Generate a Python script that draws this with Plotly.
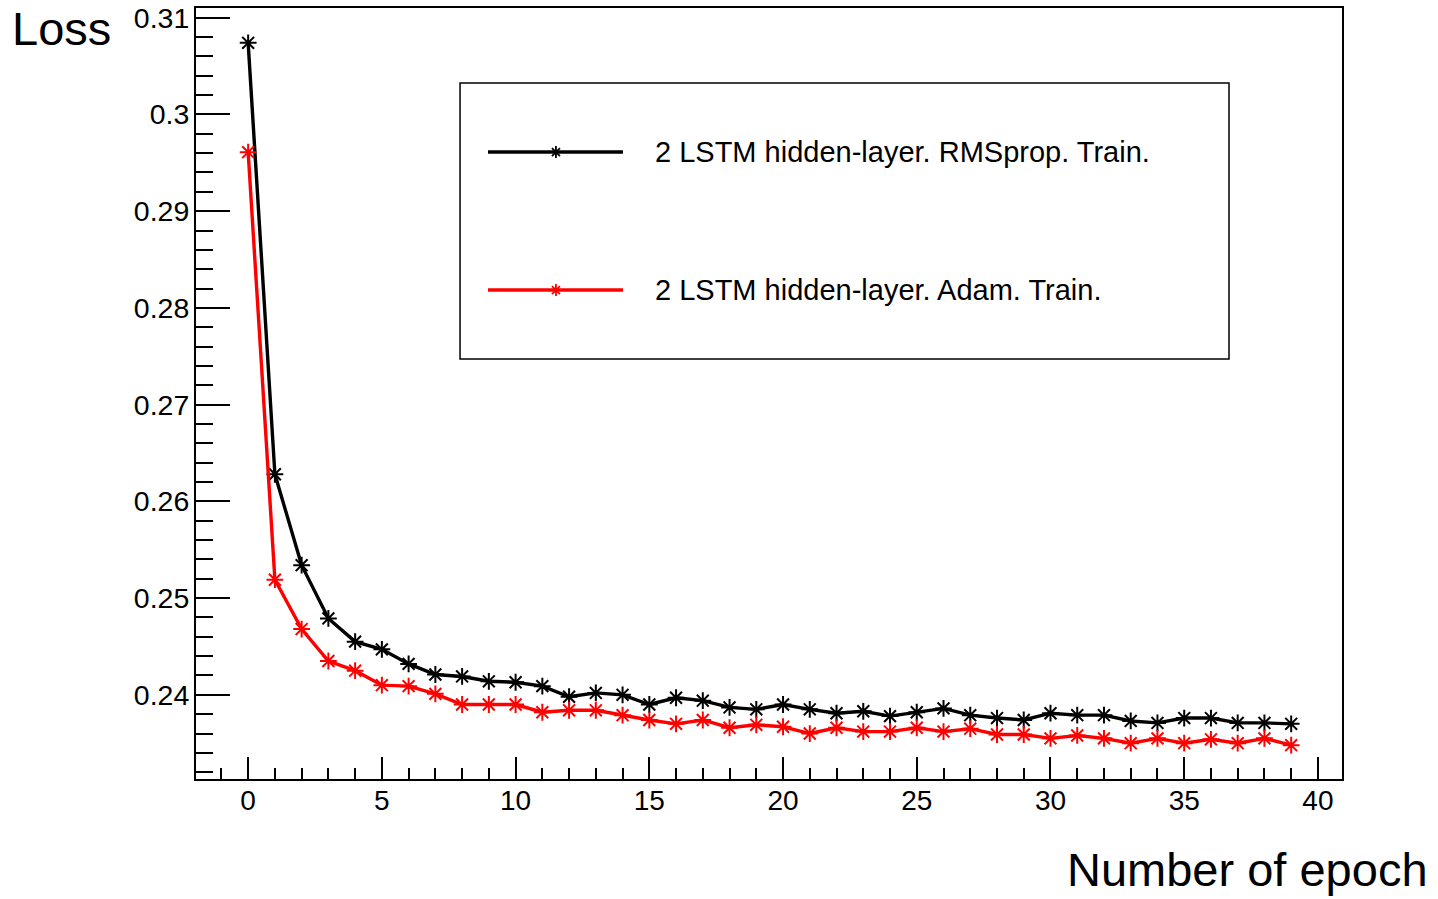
import plotly.graph_objects as go

epochs = list(range(40))
rmsprop_loss = [0.3074, 0.2628, 0.2534, 0.2479, 0.2455, 0.2447, 0.2432, 0.2421, 0.2419, 0.2414,
                0.2413, 0.2409, 0.2398, 0.2402, 0.2400, 0.2390, 0.2397, 0.2394, 0.2387, 0.2385,
                0.2390, 0.2385, 0.2381, 0.2383, 0.2378, 0.2382, 0.2386, 0.2379, 0.2376, 0.2374,
                0.2381, 0.2379, 0.2379, 0.2373, 0.2371, 0.2376, 0.2376, 0.2371, 0.2371, 0.2370]
adam_loss = [0.2961, 0.2519, 0.2468, 0.2435, 0.2425, 0.2410, 0.2409, 0.2401, 0.2390, 0.2390,
             0.2390, 0.2382, 0.2384, 0.2384, 0.2379, 0.2374, 0.2370, 0.2374, 0.2366, 0.2369,
             0.2367, 0.2360, 0.2366, 0.2362, 0.2362, 0.2366, 0.2362, 0.2365, 0.2359, 0.2359,
             0.2355, 0.2358, 0.2355, 0.2350, 0.2355, 0.2350, 0.2354, 0.2350, 0.2355, 0.2348]
series_names = ["2 LSTM hidden-layer. RMSprop. Train.", "2 LSTM hidden-layer. Adam. Train."]
series_colors = ["#000000", "#ff0000"]
x_title = "Number of epoch"
y_title = "Loss"

FONT = "Liberation Sans, Arial, Helvetica, sans-serif"

fig = go.Figure()
for name, ys, col in zip(series_names, [rmsprop_loss, adam_loss], series_colors):
    fig.add_trace(go.Scatter(
        x=epochs, y=ys, name=name, mode="lines+markers",
        line=dict(color=col, width=3.4),
        marker=dict(symbol="asterisk-open", size=14, color=col, line=dict(color=col, width=2)),
        showlegend=False,
    ))

fig.update_layout(
    width=1438, height=899,
    margin=dict(l=196, r=96, t=8, b=120),
    paper_bgcolor="white", plot_bgcolor="white",
    font=dict(family=FONT, color="black", size=28),
    showlegend=False,
)
fig.update_xaxes(
    range=[-1.95, 40.9], dtick=5, tick0=0, automargin=False,
    showgrid=False, zeroline=False,
    showline=True, linecolor="black", linewidth=2, mirror=True,
    ticks="inside", ticklen=22, tickwidth=1.6, tickcolor="black",
    tickfont=dict(size=28, family=FONT), ticklabelstandoff=-5,
    minor=dict(dtick=1, tick0=0, ticks="inside", ticklen=11, tickwidth=1.6, tickcolor="black", showgrid=False),
)
fig.update_yaxes(
    range=[0.2313, 0.3110], dtick=0.01, tick0=0, automargin=False,
    showgrid=False, zeroline=False,
    showline=True, linecolor="black", linewidth=2, mirror=True,
    ticks="inside", ticklen=34, tickwidth=1.6, tickcolor="black",
    tickfont=dict(size=28.5, family=FONT), ticklabelstandoff=-1,
    minor=dict(dtick=0.002, tick0=0, ticks="inside", ticklen=17, tickwidth=1.6, tickcolor="black", showgrid=False),
)

# Axis titles (ROOT style placement)
fig.add_annotation(text=y_title, xref="paper", yref="paper", x=-0.0724, y=0.9734,
                   xanchor="right", yanchor="middle", showarrow=False,
                   font=dict(size=47, family=FONT, color="black"))
fig.add_annotation(text=x_title, xref="paper", yref="paper", x=1.0768, y=-0.117,
                   xanchor="right", yanchor="middle", showarrow=False,
                   font=dict(size=47, family=FONT, color="black"))

# Legend box drawn ROOT-style
fig.add_shape(type="rect", xref="paper", yref="paper", x0=0.2304, x1=0.9014, y0=0.5447, y1=0.9027,
              line=dict(color="black", width=1.5), fillcolor="white", layer="above")
leg_y = [0.8132, 0.6342]
for name, col, yy in zip(series_names, series_colors, leg_y):
    fig.add_shape(type="line", xref="paper", yref="paper", x0=0.2548, x1=0.3726, y0=yy, y1=yy,
                  line=dict(color=col, width=3.4), layer="above")
    fig.add_shape(type="path", xref="paper", yref="paper", xsizemode="pixel", ysizemode="pixel",
                  xanchor=0.3141, yanchor=yy,
                  path="M-5.5,0 L5.5,0 M0,-6 L0,6 M-4,-4 L4,4 M-4,4 L4,-4",
                  line=dict(color=col, width=1.8), layer="above")
    fig.add_annotation(text=name, xref="paper", yref="paper", x=0.3988, y=yy,
                       xanchor="left", yanchor="middle", showarrow=False,
                       font=dict(size=29, family=FONT, color="black"))

fig.write_html("out.html")
